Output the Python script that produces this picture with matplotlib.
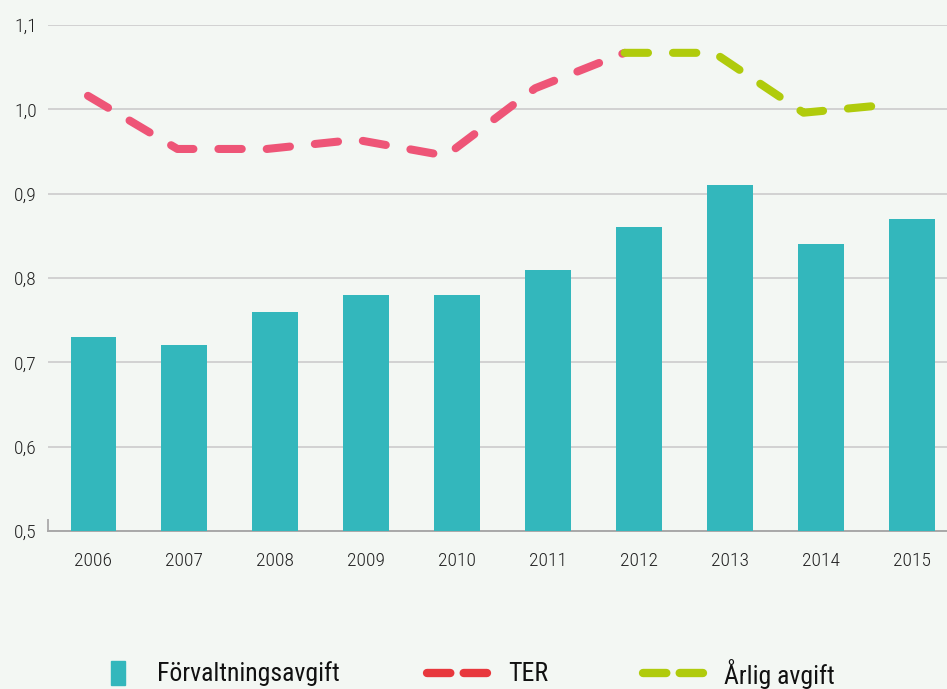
import matplotlib
matplotlib.use("Agg")
import matplotlib.pyplot as plt
from matplotlib.lines import Line2D
from matplotlib.patches import Rectangle

years = ["2006", "2007", "2008", "2009", "2010", "2011", "2012", "2013", "2014", "2015"]
forvaltning = [0.73, 0.72, 0.76, 0.78, 0.78, 0.81, 0.86, 0.91, 0.84, 0.87]
ter = [1.016, 0.953, 0.953, 0.964, 0.945, 1.025, 1.067]          # 2006-2012
arlig = [1.067, 1.067, 0.996, 1.006]                               # 2012-2015
yticks = [0.5, 0.6, 0.7, 0.8, 0.9, 1.0, 1.1]
ytick_labels = ["0,5", "0,6", "0,7", "0,8", "0,9", "1,0", "1,1"]

BG = "#f3f7f3"
BAR = "#33b7bc"
PINK = "#ee5577"
RED = "#e8383d"
LIME = "#b0cb0c"

plt.rcParams['font.family'] = ['Roboto Condensed', 'DejaVu Sans']
plt.rcParams['font.weight'] = 'light'

fig = plt.figure(figsize=(9.47, 6.89), dpi=100, facecolor=BG)
W, H = 947, 689
left, right, top, bottom = 48, 947, 25, 531
ax = fig.add_axes([left / W, 1 - bottom / H, (right - left) / W, (bottom - top) / H])
ax.set_facecolor(BG)

x = list(range(len(years)))
ax.bar(x, [v - 0.5 for v in forvaltning], bottom=0.5, width=0.505, color=BAR, zorder=3)
ax.set_xlim(-0.5, 9.385)
ax.set_ylim(0.5, 1.1)
ax.set_yticks(yticks)
ax.set_yticklabels(ytick_labels)
ax.set_xticks(x)
ax.set_xticklabels(years)
ax.tick_params(axis='both', length=0, labelsize=14, colors="#222222")
ax.tick_params(axis='x', pad=15)
ax.tick_params(axis='y', pad=8)
ax.grid(axis='y', color="#c8c8c8", linewidth=1.1, zorder=0)
for s in ["top", "right", "left"]:
    ax.spines[s].set_visible(False)
ax.spines["bottom"].set_color("#a8a8a8")
ax.spines["bottom"].set_linewidth(1.4)
ax.plot([0, 0], [0, 0.022], transform=ax.transAxes, color="#b0b0b0", lw=1.4, clip_on=False)

# lines on a twin axis (point spacing slightly differs from bar slots)
ax2 = ax.twiny()
ax2.set_xlim(-0.447, 9.604)
ax2.axis('off')
ax2.set_ylim(0.5, 1.1)
dash = dict(linewidth=5.8, dash_capstyle='round', solid_capstyle='round')
l1 = ax2.plot(range(0, 7), ter, color=PINK, **dash, zorder=4)[0]
l1.set_dashes((2.9, 3.1))
l2 = ax2.plot(range(6, 10), arlig, color=LIME, **dash, zorder=4)[0]
l2.set_dashes((2.9, 3.1))

# legend drawn manually
ly = 1 - 673 / H
ty = 1 - 674 / H
fig.patches.append(Rectangle((111 / W, 1 - 685 / H), 14 / W, 24 / H, transform=fig.transFigure,
                             color=BAR, figure=fig))
fig.text(157 / W, ty, "Förvaltningsavgift", fontsize=18.5, fontweight='normal',
         va='center', ha='left', color="#111111")
for (x0, x1, c, label, tx) in [(427, 492, RED, "TER", 508), (643, 708, LIME, "Årlig avgift", 724)]:
    ln = Line2D([x0 / W, x1 / W], [ly, ly], transform=fig.transFigure, color=c, lw=6,
                dash_capstyle='round')
    ln.set_dashes((2.8, 1.6))
    fig.lines.append(ln)
    fig.text(tx / W, ty, label, fontsize=18.5, fontweight='normal',
             va='center', ha='left', color="#111111")

fig.savefig("out.png", dpi=100, facecolor=BG)
